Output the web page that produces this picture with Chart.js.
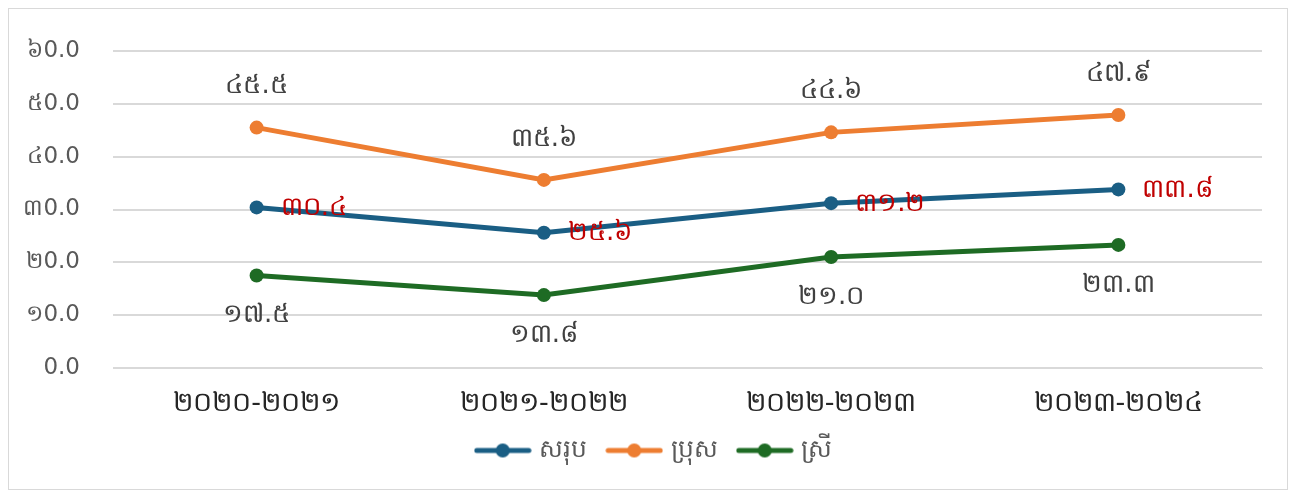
<!DOCTYPE html>
<html><head><meta charset="utf-8">
<script src="https://cdn.jsdelivr.net/npm/chart.js@4.4.1/dist/chart.umd.min.js"></script>
<style>
html,body{margin:0;padding:0;background:#fff;}
#wrap{position:relative;width:1295px;height:493px;}
</style></head>
<body><div id="wrap"><canvas id="c" width="1295" height="493"></canvas></div>
<script>
const categories = ['២០២០-២០២១','២០២១-២០២២','២០២២-២០២៣','២០២៣-២០២៤'];
const seriesNames = ['សរុប','ប្រុស','ស្រី'];
const totalValues = [30.4, 25.6, 31.2, 33.8];
const maleValues = [45.5, 35.6, 44.6, 47.9];
const femaleValues = [17.5, 13.8, 21.0, 23.3];
const yTicks = ['0.0','១0.0','២0.0','៣0.0','៤0.0','៥0.0','៦0.0'];
const khDigits = ['០','១','២','៣','៤','៥','៦','៧','៨','៩'];

function toKhmer(v){ return v.toFixed(1).split('').map(ch => /[0-9]/.test(ch) ? khDigits[+ch] : ch).join(''); }

const FONT = "'DejaVu Sans',sans-serif";
const colors = ['#1a5e84','#ed7d31','#1e6b24'];
const labelPos = ['right','top','bottom'];
const labelColors = ['#c00000','#404040','#404040'];

function legendIcon(color){
  const cv = document.createElement('canvas');
  cv.width = 58; cv.height = 16;
  const g = cv.getContext('2d');
  g.strokeStyle = color; g.lineWidth = 5; g.lineCap = 'round';
  g.beginPath(); g.moveTo(3,8); g.lineTo(55,8); g.stroke();
  g.fillStyle = color; g.beginPath(); g.arc(29,8,7,0,Math.PI*2); g.fill();
  return cv;
}

const borderPlugin = {
  id:'border',
  beforeDraw(chart){
    const ctx = chart.ctx;
    ctx.save();
    ctx.strokeStyle = '#d9d9d9'; ctx.lineWidth = 1;
    ctx.strokeRect(8.5, 8.5, 1279, 481);
    ctx.restore();
  }
};

const labelPlugin = {
  id:'dlabels',
  afterDatasetsDraw(chart){
    const ctx = chart.ctx;
    ctx.save();
    ctx.font = "26px " + FONT;
    chart.data.datasets.forEach((ds, i) => {
      const meta = chart.getDatasetMeta(i);
      meta.data.forEach((pt, j) => {
        const txt = toKhmer(ds.data[j]);
        ctx.fillStyle = labelColors[i];
        ctx.textBaseline = 'middle';
        if (labelPos[i] === 'right') { ctx.textAlign = 'left'; ctx.fillText(txt, pt.x + 24, pt.y + 1); }
        else if (labelPos[i] === 'top') { ctx.textAlign = 'center'; ctx.fillText(txt, pt.x, pt.y - 41); }
        else { ctx.textAlign = 'center'; ctx.fillText(txt, pt.x, pt.y + 40); }
      });
    });
    ctx.restore();
  }
};

const dataArrays = [totalValues, maleValues, femaleValues];
new Chart(document.getElementById('c'), {
  type:'line',
  data:{
    labels: categories,
    datasets: seriesNames.map((n,i) => ({
      label:n, data:dataArrays[i], borderColor:colors[i], backgroundColor:colors[i],
      borderWidth:5, pointRadius:7, pointHoverRadius:7, pointBackgroundColor:colors[i],
      pointBorderWidth:0, tension:0, fill:false, pointStyle:'circle', yAxisID:'y'
    }))
  },
  options:{
    responsive:false, animation:false, events:[],
    layout:{padding:{left:16,right:0,top:51,bottom:20}},
    scales:{
      x:{
        offset:true,
        afterFit(s){ s.height = 47; },
        grid:{display:false},
        border:{color:'#d9d9d9',width:1},
        ticks:{color:'#262626',font:{size:27,family:FONT},padding:12,maxRotation:0}
      },
      y:{
        min:0,max:60,
        afterFit(s){ s.width = 97; },
        afterBuildTicks(s){ s.ticks = yTicks.map((t,k)=>({value:k*10})); },
        grid:{color:'#d9d9d9',lineWidth:2,drawTicks:false},
        border:{display:false},
        ticks:{color:'#595959',font:{size:23,family:FONT},padding:33,
          callback:(v)=> yTicks[Math.round(v/10)]}
      },
      y2:{
        position:'right', min:0, max:60,
        afterFit(s){ s.width = 33; },
        grid:{display:false, drawTicks:false},
        border:{display:false},
        ticks:{display:false}
      }
    },
    plugins:{
      legend:{position:'bottom',
        labels:{color:'#595959',font:{size:25,family:FONT},boxHeight:16,pointStyleWidth:48,padding:23,usePointStyle:true,
          generateLabels(chart){
            return chart.data.datasets.map((ds,i)=>({text:ds.label,fillStyle:colors[i],strokeStyle:colors[i],lineWidth:0,
              pointStyle:legendIcon(colors[i]),datasetIndex:i,fontColor:'#595959',hidden:false}));
          }}},
      tooltip:{enabled:false}
    }
  },
  plugins:[borderPlugin,labelPlugin]
});
</script></body></html>
